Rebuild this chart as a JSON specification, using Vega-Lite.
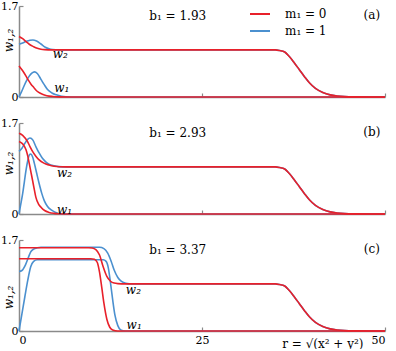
{
"$schema": "https://vega.github.io/schema/vega-lite/v6.json",
"padding": {"left": 0, "top": 0, "right": 0, "bottom": 0},
"datasets": {
"curves": [
{"p":"a","m":0,"w":1,"r":0,"v":0.58},{"p":"a","m":0,"w":1,"r":0.5,"v":0.49},{"p":"a","m":0,"w":1,"r":0.96,"v":0.39},{"p":"a","m":0,"w":1,"r":1.3,"v":0.31},{"p":"a","m":0,"w":1,"r":1.64,"v":0.24},{"p":"a","m":0,"w":1,"r":2,"v":0.18},{"p":"a","m":0,"w":1,"r":2.3,"v":0.13},{"p":"a","m":0,"w":1,"r":2.7,"v":0.085},{"p":"a","m":0,"w":1,"r":3.2,"v":0.05},{"p":"a","m":0,"w":1,"r":3.8,"v":0.025},{"p":"a","m":0,"w":1,"r":4.6,"v":0.01},{"p":"a","m":0,"w":1,"r":5.5,"v":0.003},{"p":"a","m":0,"w":1,"r":7,"v":0},{"p":"a","m":0,"w":1,"r":50,"v":0},
{"p":"a","m":1,"w":1,"r":0,"v":0},{"p":"a","m":1,"w":1,"r":0.35,"v":0.1},{"p":"a","m":1,"w":1,"r":0.7,"v":0.21},{"p":"a","m":1,"w":1,"r":1.05,"v":0.31},{"p":"a","m":1,"w":1,"r":1.4,"v":0.39},{"p":"a","m":1,"w":1,"r":1.75,"v":0.445},{"p":"a","m":1,"w":1,"r":2.1,"v":0.47},{"p":"a","m":1,"w":1,"r":2.5,"v":0.44},{"p":"a","m":1,"w":1,"r":3,"v":0.33},{"p":"a","m":1,"w":1,"r":3.45,"v":0.23},{"p":"a","m":1,"w":1,"r":3.9,"v":0.14},{"p":"a","m":1,"w":1,"r":4.5,"v":0.075},{"p":"a","m":1,"w":1,"r":5.1,"v":0.04},{"p":"a","m":1,"w":1,"r":5.8,"v":0.015},{"p":"a","m":1,"w":1,"r":6.4,"v":0.005},{"p":"a","m":1,"w":1,"r":8,"v":0},{"p":"a","m":1,"w":1,"r":50,"v":0},
{"p":"a","m":0,"w":2,"r":0,"v":1.13},{"p":"a","m":0,"w":2,"r":0.5,"v":1.09},{"p":"a","m":0,"w":2,"r":1,"v":1.03},{"p":"a","m":0,"w":2,"r":1.4,"v":0.985},{"p":"a","m":0,"w":2,"r":2,"v":0.94},{"p":"a","m":0,"w":2,"r":2.5,"v":0.91},{"p":"a","m":0,"w":2,"r":3,"v":0.893},{"p":"a","m":0,"w":2,"r":3.5,"v":0.885},{"p":"a","m":0,"w":2,"r":4.5,"v":0.88},
{"p":"a","m":0,"w":2,"r":35,"v":0.88},{"p":"a","m":0,"w":2,"r":35.6,"v":0.868},{"p":"a","m":0,"w":2,"r":36.3,"v":0.84},{"p":"a","m":0,"w":2,"r":36.9,"v":0.76},{"p":"a","m":0,"w":2,"r":37.6,"v":0.64},{"p":"a","m":0,"w":2,"r":38.3,"v":0.51},{"p":"a","m":0,"w":2,"r":39,"v":0.38},{"p":"a","m":0,"w":2,"r":39.7,"v":0.26},{"p":"a","m":0,"w":2,"r":40.5,"v":0.16},{"p":"a","m":0,"w":2,"r":41.5,"v":0.085},{"p":"a","m":0,"w":2,"r":42.5,"v":0.04},{"p":"a","m":0,"w":2,"r":43.5,"v":0.018},{"p":"a","m":0,"w":2,"r":44.5,"v":0.007},{"p":"a","m":0,"w":2,"r":46,"v":0.002},{"p":"a","m":0,"w":2,"r":48,"v":0},{"p":"a","m":0,"w":2,"r":50,"v":0},
{"p":"a","m":1,"w":2,"r":0,"v":0.985},{"p":"a","m":1,"w":2,"r":0.5,"v":1.01},{"p":"a","m":1,"w":2,"r":1,"v":1.04},{"p":"a","m":1,"w":2,"r":1.5,"v":1.06},{"p":"a","m":1,"w":2,"r":1.9,"v":1.065},{"p":"a","m":1,"w":2,"r":2.4,"v":1.045},{"p":"a","m":1,"w":2,"r":3,"v":0.99},{"p":"a","m":1,"w":2,"r":3.6,"v":0.93},{"p":"a","m":1,"w":2,"r":4.1,"v":0.9},{"p":"a","m":1,"w":2,"r":4.6,"v":0.887},{"p":"a","m":1,"w":2,"r":5.5,"v":0.88},
{"p":"a","m":1,"w":2,"r":35,"v":0.88},{"p":"a","m":1,"w":2,"r":35.6,"v":0.868},{"p":"a","m":1,"w":2,"r":36.3,"v":0.84},{"p":"a","m":1,"w":2,"r":36.9,"v":0.76},{"p":"a","m":1,"w":2,"r":37.6,"v":0.64},{"p":"a","m":1,"w":2,"r":38.3,"v":0.51},{"p":"a","m":1,"w":2,"r":39,"v":0.38},{"p":"a","m":1,"w":2,"r":39.7,"v":0.26},{"p":"a","m":1,"w":2,"r":40.5,"v":0.16},{"p":"a","m":1,"w":2,"r":41.5,"v":0.085},{"p":"a","m":1,"w":2,"r":42.5,"v":0.04},{"p":"a","m":1,"w":2,"r":43.5,"v":0.018},{"p":"a","m":1,"w":2,"r":44.5,"v":0.007},{"p":"a","m":1,"w":2,"r":46,"v":0.002},{"p":"a","m":1,"w":2,"r":48,"v":0},{"p":"a","m":1,"w":2,"r":50,"v":0},
{"p":"b","m":0,"w":2,"r":0,"v":1.51},{"p":"b","m":0,"w":2,"r":0.5,"v":1.47},{"p":"b","m":0,"w":2,"r":1.15,"v":1.355},{"p":"b","m":0,"w":2,"r":1.5,"v":1.26},{"p":"b","m":0,"w":2,"r":1.85,"v":1.17},{"p":"b","m":0,"w":2,"r":2.3,"v":1.08},{"p":"b","m":0,"w":2,"r":2.75,"v":1.01},{"p":"b","m":0,"w":2,"r":3.4,"v":0.95},{"p":"b","m":0,"w":2,"r":4.1,"v":0.915},{"p":"b","m":0,"w":2,"r":4.8,"v":0.893},{"p":"b","m":0,"w":2,"r":5.5,"v":0.883},{"p":"b","m":0,"w":2,"r":6.5,"v":0.88},
{"p":"b","m":0,"w":2,"r":35,"v":0.88},{"p":"b","m":0,"w":2,"r":35.6,"v":0.868},{"p":"b","m":0,"w":2,"r":36.3,"v":0.84},{"p":"b","m":0,"w":2,"r":36.9,"v":0.76},{"p":"b","m":0,"w":2,"r":37.6,"v":0.64},{"p":"b","m":0,"w":2,"r":38.3,"v":0.51},{"p":"b","m":0,"w":2,"r":39,"v":0.38},{"p":"b","m":0,"w":2,"r":39.7,"v":0.26},{"p":"b","m":0,"w":2,"r":40.5,"v":0.16},{"p":"b","m":0,"w":2,"r":41.5,"v":0.085},{"p":"b","m":0,"w":2,"r":42.5,"v":0.04},{"p":"b","m":0,"w":2,"r":43.5,"v":0.018},{"p":"b","m":0,"w":2,"r":44.5,"v":0.007},{"p":"b","m":0,"w":2,"r":46,"v":0.002},{"p":"b","m":0,"w":2,"r":48,"v":0},{"p":"b","m":0,"w":2,"r":50,"v":0},
{"p":"b","m":1,"w":2,"r":0,"v":1.17},{"p":"b","m":1,"w":2,"r":0.4,"v":1.23},{"p":"b","m":1,"w":2,"r":0.8,"v":1.32},{"p":"b","m":1,"w":2,"r":1.15,"v":1.39},{"p":"b","m":1,"w":2,"r":1.5,"v":1.42},{"p":"b","m":1,"w":2,"r":1.9,"v":1.38},{"p":"b","m":1,"w":2,"r":2.3,"v":1.26},{"p":"b","m":1,"w":2,"r":2.75,"v":1.14},{"p":"b","m":1,"w":2,"r":3.2,"v":1.04},{"p":"b","m":1,"w":2,"r":3.65,"v":0.975},{"p":"b","m":1,"w":2,"r":4.1,"v":0.93},{"p":"b","m":1,"w":2,"r":4.8,"v":0.9},{"p":"b","m":1,"w":2,"r":5.4,"v":0.885},{"p":"b","m":1,"w":2,"r":6.5,"v":0.88},
{"p":"b","m":1,"w":2,"r":35,"v":0.88},{"p":"b","m":1,"w":2,"r":35.6,"v":0.868},{"p":"b","m":1,"w":2,"r":36.3,"v":0.84},{"p":"b","m":1,"w":2,"r":36.9,"v":0.76},{"p":"b","m":1,"w":2,"r":37.6,"v":0.64},{"p":"b","m":1,"w":2,"r":38.3,"v":0.51},{"p":"b","m":1,"w":2,"r":39,"v":0.38},{"p":"b","m":1,"w":2,"r":39.7,"v":0.26},{"p":"b","m":1,"w":2,"r":40.5,"v":0.16},{"p":"b","m":1,"w":2,"r":41.5,"v":0.085},{"p":"b","m":1,"w":2,"r":42.5,"v":0.04},{"p":"b","m":1,"w":2,"r":43.5,"v":0.018},{"p":"b","m":1,"w":2,"r":44.5,"v":0.007},{"p":"b","m":1,"w":2,"r":46,"v":0.002},{"p":"b","m":1,"w":2,"r":48,"v":0},{"p":"b","m":1,"w":2,"r":50,"v":0},
{"p":"b","m":0,"w":1,"r":0,"v":1.355},{"p":"b","m":0,"w":1,"r":0.5,"v":1.31},{"p":"b","m":0,"w":1,"r":0.96,"v":1.2},{"p":"b","m":0,"w":1,"r":1.2,"v":1.08},{"p":"b","m":0,"w":1,"r":1.4,"v":0.945},{"p":"b","m":0,"w":1,"r":1.65,"v":0.77},{"p":"b","m":0,"w":1,"r":1.85,"v":0.63},{"p":"b","m":0,"w":1,"r":2.1,"v":0.45},{"p":"b","m":0,"w":1,"r":2.3,"v":0.315},{"p":"b","m":0,"w":1,"r":2.65,"v":0.19},{"p":"b","m":0,"w":1,"r":3,"v":0.127},{"p":"b","m":0,"w":1,"r":3.5,"v":0.065},{"p":"b","m":0,"w":1,"r":4.1,"v":0.03},{"p":"b","m":0,"w":1,"r":4.8,"v":0.012},{"p":"b","m":0,"w":1,"r":5.4,"v":0.005},{"p":"b","m":0,"w":1,"r":7,"v":0},{"p":"b","m":0,"w":1,"r":50,"v":0},
{"p":"b","m":1,"w":1,"r":0,"v":0},{"p":"b","m":1,"w":1,"r":0.25,"v":0.19},{"p":"b","m":1,"w":1,"r":0.5,"v":0.38},{"p":"b","m":1,"w":1,"r":0.75,"v":0.62},{"p":"b","m":1,"w":1,"r":0.96,"v":0.82},{"p":"b","m":1,"w":1,"r":1.2,"v":1},{"p":"b","m":1,"w":1,"r":1.4,"v":1.1},{"p":"b","m":1,"w":1,"r":1.6,"v":1.12},{"p":"b","m":1,"w":1,"r":1.85,"v":1.07},{"p":"b","m":1,"w":1,"r":2.1,"v":0.945},{"p":"b","m":1,"w":1,"r":2.4,"v":0.77},{"p":"b","m":1,"w":1,"r":2.75,"v":0.57},{"p":"b","m":1,"w":1,"r":3.1,"v":0.39},{"p":"b","m":1,"w":1,"r":3.45,"v":0.25},{"p":"b","m":1,"w":1,"r":3.9,"v":0.14},{"p":"b","m":1,"w":1,"r":4.4,"v":0.075},{"p":"b","m":1,"w":1,"r":4.9,"v":0.035},{"p":"b","m":1,"w":1,"r":5.4,"v":0.01},{"p":"b","m":1,"w":1,"r":7,"v":0},{"p":"b","m":1,"w":1,"r":50,"v":0},
{"p":"c","m":0,"w":2,"r":0,"v":1.555},{"p":"c","m":0,"w":2,"r":9.5,"v":1.555},{"p":"c","m":0,"w":2,"r":10,"v":1.55},{"p":"c","m":0,"w":2,"r":10.5,"v":1.52},{"p":"c","m":0,"w":2,"r":11,"v":1.42},{"p":"c","m":0,"w":2,"r":11.5,"v":1.2},{"p":"c","m":0,"w":2,"r":12,"v":1.02},{"p":"c","m":0,"w":2,"r":12.5,"v":0.93},{"p":"c","m":0,"w":2,"r":13,"v":0.895},{"p":"c","m":0,"w":2,"r":13.5,"v":0.885},{"p":"c","m":0,"w":2,"r":14.5,"v":0.88},
{"p":"c","m":0,"w":2,"r":35,"v":0.88},{"p":"c","m":0,"w":2,"r":35.6,"v":0.868},{"p":"c","m":0,"w":2,"r":36.3,"v":0.84},{"p":"c","m":0,"w":2,"r":36.9,"v":0.76},{"p":"c","m":0,"w":2,"r":37.6,"v":0.64},{"p":"c","m":0,"w":2,"r":38.3,"v":0.51},{"p":"c","m":0,"w":2,"r":39,"v":0.38},{"p":"c","m":0,"w":2,"r":39.7,"v":0.26},{"p":"c","m":0,"w":2,"r":40.5,"v":0.16},{"p":"c","m":0,"w":2,"r":41.5,"v":0.085},{"p":"c","m":0,"w":2,"r":42.5,"v":0.04},{"p":"c","m":0,"w":2,"r":43.5,"v":0.018},{"p":"c","m":0,"w":2,"r":44.5,"v":0.007},{"p":"c","m":0,"w":2,"r":46,"v":0.002},{"p":"c","m":0,"w":2,"r":48,"v":0},{"p":"c","m":0,"w":2,"r":50,"v":0},
{"p":"c","m":0,"w":1,"r":0,"v":1.35},{"p":"c","m":0,"w":1,"r":9.8,"v":1.35},{"p":"c","m":0,"w":1,"r":10.3,"v":1.34},{"p":"c","m":0,"w":1,"r":10.7,"v":1.28},{"p":"c","m":0,"w":1,"r":11,"v":1.1},{"p":"c","m":0,"w":1,"r":11.3,"v":0.82},{"p":"c","m":0,"w":1,"r":11.6,"v":0.52},{"p":"c","m":0,"w":1,"r":12,"v":0.22},{"p":"c","m":0,"w":1,"r":12.4,"v":0.07},{"p":"c","m":0,"w":1,"r":12.8,"v":0.02},{"p":"c","m":0,"w":1,"r":13.5,"v":0},{"p":"c","m":0,"w":1,"r":50,"v":0},
{"p":"c","m":1,"w":2,"r":0,"v":1.11},{"p":"c","m":1,"w":2,"r":0.4,"v":1.13},{"p":"c","m":1,"w":2,"r":0.9,"v":1.24},{"p":"c","m":1,"w":2,"r":1.3,"v":1.38},{"p":"c","m":1,"w":2,"r":1.6,"v":1.48},{"p":"c","m":1,"w":2,"r":2,"v":1.53},{"p":"c","m":1,"w":2,"r":2.5,"v":1.555},{"p":"c","m":1,"w":2,"r":3,"v":1.565},{"p":"c","m":1,"w":2,"r":11,"v":1.565},{"p":"c","m":1,"w":2,"r":11.6,"v":1.54},{"p":"c","m":1,"w":2,"r":12.1,"v":1.46},{"p":"c","m":1,"w":2,"r":12.6,"v":1.3},{"p":"c","m":1,"w":2,"r":13,"v":1.14},{"p":"c","m":1,"w":2,"r":13.5,"v":1},{"p":"c","m":1,"w":2,"r":14,"v":0.925},{"p":"c","m":1,"w":2,"r":14.6,"v":0.89},{"p":"c","m":1,"w":2,"r":15.5,"v":0.88},
{"p":"c","m":1,"w":2,"r":35,"v":0.88},{"p":"c","m":1,"w":2,"r":35.6,"v":0.868},{"p":"c","m":1,"w":2,"r":36.3,"v":0.84},{"p":"c","m":1,"w":2,"r":36.9,"v":0.76},{"p":"c","m":1,"w":2,"r":37.6,"v":0.64},{"p":"c","m":1,"w":2,"r":38.3,"v":0.51},{"p":"c","m":1,"w":2,"r":39,"v":0.38},{"p":"c","m":1,"w":2,"r":39.7,"v":0.26},{"p":"c","m":1,"w":2,"r":40.5,"v":0.16},{"p":"c","m":1,"w":2,"r":41.5,"v":0.085},{"p":"c","m":1,"w":2,"r":42.5,"v":0.04},{"p":"c","m":1,"w":2,"r":43.5,"v":0.018},{"p":"c","m":1,"w":2,"r":44.5,"v":0.007},{"p":"c","m":1,"w":2,"r":46,"v":0.002},{"p":"c","m":1,"w":2,"r":48,"v":0},{"p":"c","m":1,"w":2,"r":50,"v":0},
{"p":"c","m":1,"w":1,"r":0,"v":0},{"p":"c","m":1,"w":1,"r":0.4,"v":0.32},{"p":"c","m":1,"w":1,"r":0.8,"v":0.64},{"p":"c","m":1,"w":1,"r":1.2,"v":0.95},{"p":"c","m":1,"w":1,"r":1.6,"v":1.2},{"p":"c","m":1,"w":1,"r":2,"v":1.3},{"p":"c","m":1,"w":1,"r":2.5,"v":1.33},{"p":"c","m":1,"w":1,"r":11.5,"v":1.33},{"p":"c","m":1,"w":1,"r":11.9,"v":1.3},{"p":"c","m":1,"w":1,"r":12.2,"v":1.18},{"p":"c","m":1,"w":1,"r":12.5,"v":0.9},{"p":"c","m":1,"w":1,"r":12.8,"v":0.58},{"p":"c","m":1,"w":1,"r":13.1,"v":0.3},{"p":"c","m":1,"w":1,"r":13.5,"v":0.1},{"p":"c","m":1,"w":1,"r":13.9,"v":0.02},{"p":"c","m":1,"w":1,"r":14.5,"v":0},{"p":"c","m":1,"w":1,"r":50,"v":0}
],
"labels": [
{"p":"a","k":"b","r":17.8,"v":1.51,"t":"b₁ = 1.93"},
{"p":"b","k":"b","r":17.8,"v":1.51,"t":"b₁ = 2.93"},
{"p":"c","k":"b","r":17.8,"v":1.51,"t":"b₁ = 3.37"},
{"p":"a","k":"l","r":48.2,"v":1.54,"t":"(a)"},
{"p":"b","k":"l","r":48.2,"v":1.54,"t":"(b)"},
{"p":"c","k":"l","r":48.2,"v":1.54,"t":"(c)"},
{"p":"a","k":"w","r":4.6,"v":0.8,"t":"w₂"},
{"p":"a","k":"w","r":4.8,"v":0.16,"t":"w₁"},
{"p":"b","k":"w","r":5.2,"v":0.76,"t":"w₂"},
{"p":"b","k":"w","r":5.2,"v":0.07,"t":"w₁"},
{"p":"c","k":"w","r":14.6,"v":0.76,"t":"w₂"},
{"p":"c","k":"w","r":14.7,"v":0.11,"t":"w₁"}
]
},
"spacing": 26,
"bounds": "flush",
"vconcat": [
{
"width": 366, "height": 91,
"encoding": {
 "x": {"field": "r", "type": "quantitative", "scale": {"domain": [0, 50]}, "axis": {"values": [0, 25, 50], "labels": false, "title": null}},
 "y": {"field": "v", "type": "quantitative", "scale": {"domain": [0, 1.7], "nice": false}, "axis": {"values": [0, 1.7], "labelExpr": "datum.value < 0.5 ? '0' : '1.7'", "title": "w₁,₂", "titleY": 34}}
},
"layer": [
 {"data": {"name": "curves"}, "transform": [{"filter": "datum.p == 'a' && datum.m == 1"}], "mark": {"type": "line", "interpolate": "monotone", "strokeWidth": 1.6}, "encoding": {"color": {"field": "m", "type": "nominal", "scale": {"domain": [0, 1], "range": ["#e8202a", "#4b90cf"]}, "legend": {"title": null, "orient": "none", "legendX": 230, "legendY": -3, "labelExpr": "'m₁ = ' + datum.label"}}, "detail": {"field": "w"}}},
 {"data": {"name": "curves"}, "transform": [{"filter": "datum.p == 'a' && datum.m == 0"}], "mark": {"type": "line", "interpolate": "monotone", "strokeWidth": 1.6}, "encoding": {"color": {"field": "m", "type": "nominal"}, "detail": {"field": "w"}}},
 {"data": {"name": "labels"}, "transform": [{"filter": "datum.p == 'a' && datum.k == 'b'"}], "mark": {"type": "text", "align": "left", "baseline": "middle"}, "encoding": {"text": {"field": "t"}}},
 {"data": {"name": "labels"}, "transform": [{"filter": "datum.p == 'a' && datum.k == 'l'"}], "mark": {"type": "text", "align": "center", "baseline": "middle"}, "encoding": {"text": {"field": "t"}}},
 {"data": {"name": "labels"}, "transform": [{"filter": "datum.p == 'a' && datum.k == 'w'"}], "mark": {"type": "text", "align": "left", "baseline": "middle", "fontStyle": "italic"}, "encoding": {"text": {"field": "t"}}}
]
},
{
"width": 366, "height": 91,
"encoding": {
 "x": {"field": "r", "type": "quantitative", "scale": {"domain": [0, 50]}, "axis": {"values": [0, 25, 50], "labels": false, "title": null}},
 "y": {"field": "v", "type": "quantitative", "scale": {"domain": [0, 1.7], "nice": false}, "axis": {"values": [0, 1.7], "labelExpr": "datum.value < 0.5 ? '0' : '1.7'", "title": "w₁,₂", "titleY": 40}}
},
"layer": [
 {"data": {"name": "curves"}, "transform": [{"filter": "datum.p == 'b' && datum.m == 1"}], "mark": {"type": "line", "interpolate": "monotone", "strokeWidth": 1.6}, "encoding": {"color": {"field": "m", "type": "nominal"}, "detail": {"field": "w"}}},
 {"data": {"name": "curves"}, "transform": [{"filter": "datum.p == 'b' && datum.m == 0"}], "mark": {"type": "line", "interpolate": "monotone", "strokeWidth": 1.6}, "encoding": {"color": {"field": "m", "type": "nominal"}, "detail": {"field": "w"}}},
 {"data": {"name": "labels"}, "transform": [{"filter": "datum.p == 'b' && datum.k == 'b'"}], "mark": {"type": "text", "align": "left", "baseline": "middle"}, "encoding": {"text": {"field": "t"}}},
 {"data": {"name": "labels"}, "transform": [{"filter": "datum.p == 'b' && datum.k == 'l'"}], "mark": {"type": "text", "align": "center", "baseline": "middle"}, "encoding": {"text": {"field": "t"}}},
 {"data": {"name": "labels"}, "transform": [{"filter": "datum.p == 'b' && datum.k == 'w'"}], "mark": {"type": "text", "align": "left", "baseline": "middle", "fontStyle": "italic"}, "encoding": {"text": {"field": "t"}}}
]
},
{
"width": 366, "height": 91,
"encoding": {
 "x": {"field": "r", "type": "quantitative", "scale": {"domain": [0, 50]}, "axis": {"values": [0, 25, 50], "format": "d", "labelPadding": 7, "title": "r = √(x² + y²)", "titleX": 344, "titleY": 7, "titleAlign": "right", "titleBaseline": "top"}},
 "y": {"field": "v", "type": "quantitative", "scale": {"domain": [0, 1.7], "nice": false}, "axis": {"values": [0, 1.7], "labelExpr": "datum.value < 0.5 ? '0' : '1.7'", "title": "w₁,₂", "titleY": 57}}
},
"layer": [
 {"data": {"name": "curves"}, "transform": [{"filter": "datum.p == 'c' && datum.m == 1"}], "mark": {"type": "line", "interpolate": "monotone", "strokeWidth": 1.6}, "encoding": {"color": {"field": "m", "type": "nominal"}, "detail": {"field": "w"}}},
 {"data": {"name": "curves"}, "transform": [{"filter": "datum.p == 'c' && datum.m == 0"}], "mark": {"type": "line", "interpolate": "monotone", "strokeWidth": 1.6}, "encoding": {"color": {"field": "m", "type": "nominal"}, "detail": {"field": "w"}}},
 {"data": {"name": "labels"}, "transform": [{"filter": "datum.p == 'c' && datum.k == 'b'"}], "mark": {"type": "text", "align": "left", "baseline": "middle"}, "encoding": {"text": {"field": "t"}}},
 {"data": {"name": "labels"}, "transform": [{"filter": "datum.p == 'c' && datum.k == 'l'"}], "mark": {"type": "text", "align": "center", "baseline": "middle"}, "encoding": {"text": {"field": "t"}}},
 {"data": {"name": "labels"}, "transform": [{"filter": "datum.p == 'c' && datum.k == 'w'"}], "mark": {"type": "text", "align": "left", "baseline": "middle", "fontStyle": "italic"}, "encoding": {"text": {"field": "t"}}}
]
}
],
"config": {
 "view": {"stroke": null},
 "font": "DejaVu Serif",
 "text": {"font": "DejaVu Serif", "fontSize": 12, "color": "#000"},
 "axis": {"grid": false, "domainColor": "#8a8a8a", "domainWidth": 1.5, "tickColor": "#8a8a8a", "tickSize": -4, "tickWidth": 1.2, "labelFont": "DejaVu Serif", "labelFontSize": 11, "labelColor": "#000", "titleFont": "DejaVu Serif", "titleFontWeight": "normal", "titleFontSize": 12, "titleColor": "#000"},
 "axisY": {"labelPadding": 5, "titleX": -4, "titleFontStyle": "italic"},
 "legend": {"padding": 0, "symbolType": "stroke", "symbolStrokeWidth": 2, "symbolSize": 400, "labelFont": "DejaVu Serif", "labelFontSize": 12, "labelColor": "#000", "labelOffset": 14, "rowPadding": -2}
}
}
